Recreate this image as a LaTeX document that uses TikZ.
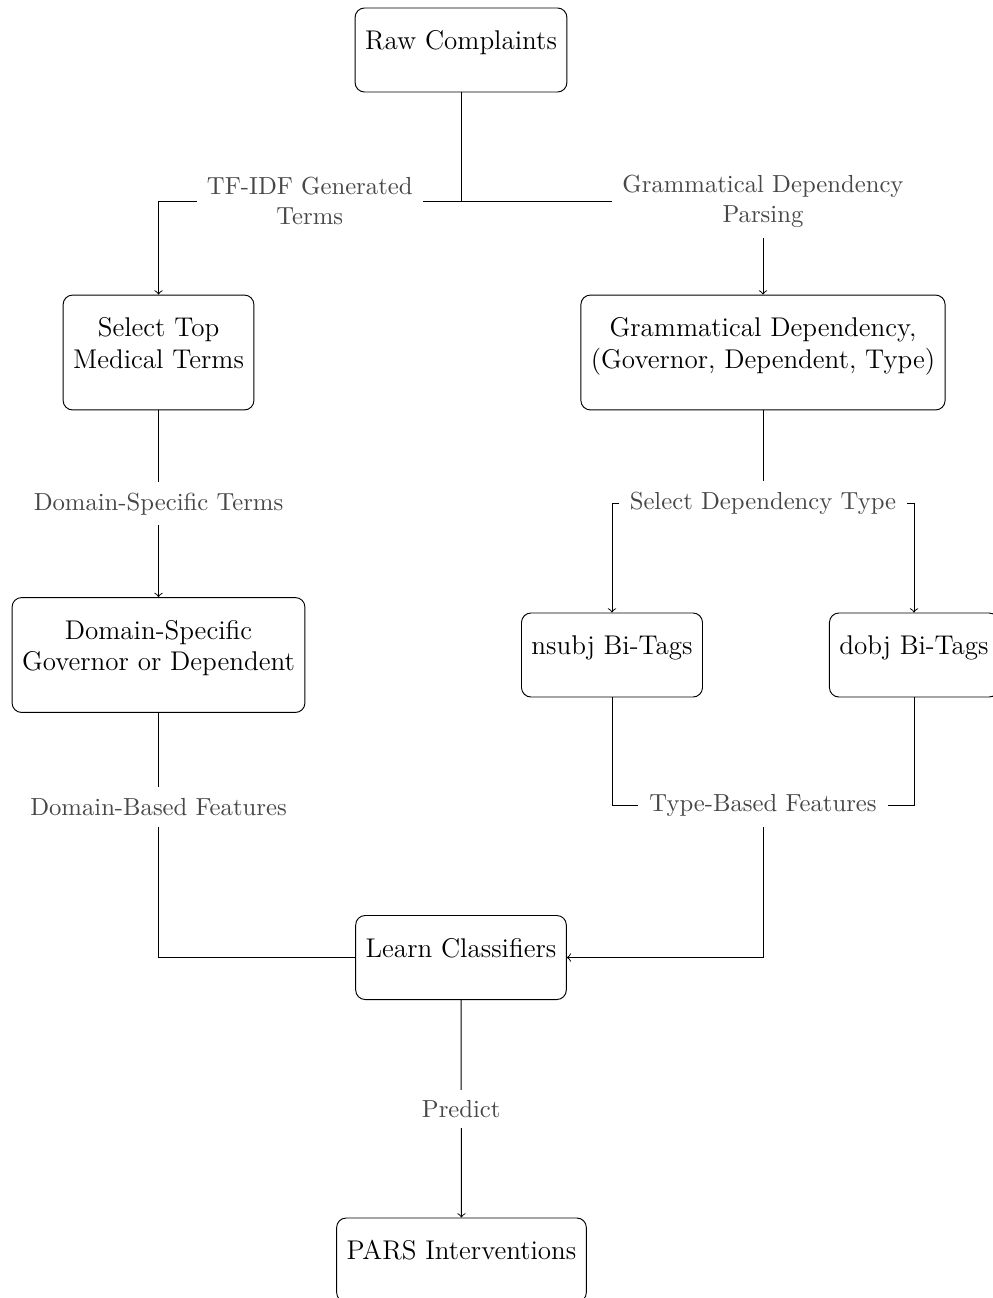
\documentclass[tikz,border=0pt]{standalone}
\begin{document}
\begin{tikzpicture}[x=0.4213pt, y=-0.4213pt,
	box/.style={draw, rounded corners, align=center, font=\fontsize{11.4}{13.3}\selectfont, inner xsep=4.2pt, minimum height=35.4pt, execute at end node={\rule[-8.2pt]{0pt}{0pt}}},
	tall/.style={box, minimum height=48.4pt},
	lbl/.style={fill=white, text=black!72, font=\fontsize{10.4}{12.6}\selectfont, align=center, inner sep=4.4pt}]
		\useasboundingbox (0,0) rectangle (993,1298);
		
		\node (raw) at (461, 50) [box]{Raw Complaints};
		\node (select) at (158.5, 352.5) [tall]{Select Top\\Medical Terms};
		\node (gdep) at (763, 352.5) [tall]{Grammatical Dependency,\\(Governor, Dependent, Type)};
		\node (domgov) at (158.5, 655) [tall]{Domain-Specific\\Governor or Dependent};
		\node (nsubj) at (612, 655) [box]{nsubj Bi-Tags};
		\node (dobj) at (914, 655) [box]{dobj Bi-Tags};
		\node (learn) at (461, 957.5) [box]{Learn Classifiers};
		\node (pars) at (461.5, 1260) [box]{PARS Interventions};
		
		\coordinate (split) at (461, 201);
		\node (seltype) at (763, 503) [lbl]{Select Dependency Type};
		\node (typefeat) at (763, 805) [lbl]{Type-Based Features};
		\node (domfeat) at (158.5, 807) [lbl]{Domain-Based Features};
		
		\draw (raw) -- (split);
		\draw[->] (split) -| node[lbl, pos=0.25]{TF-IDF Generated\\Terms} (select);
		\draw[->] (split) -| node[lbl]{Grammatical Dependency\\Parsing} (gdep);
		\draw[->] (select) -- node[lbl]{Domain-Specific Terms} (domgov);
		\draw (gdep) -- (seltype);
		\draw[->] (seltype) -| (nsubj);
		\draw[->] (seltype) -| (dobj);
		\draw (nsubj) |- (typefeat);
		\draw (dobj) |- (typefeat);
		\draw[->] (typefeat) |- (learn);
		\draw (domgov) -- (domfeat);
		\draw (domfeat) |- (learn);
		\draw[->] (learn) -- node[lbl]{Predict} (pars);
	\end{tikzpicture}
\end{document}
